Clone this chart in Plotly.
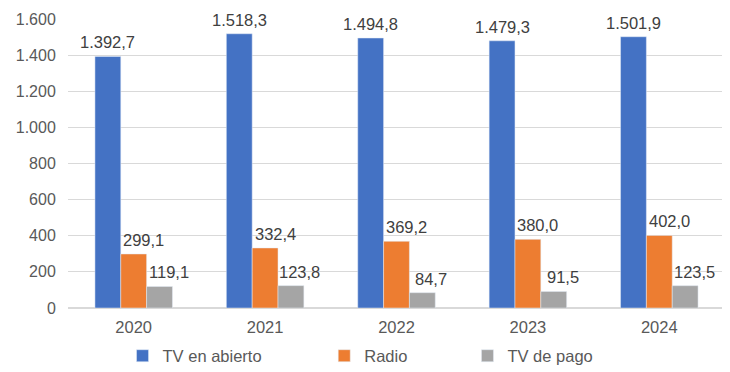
import plotly.graph_objects as go

years = ["2020", "2021", "2022", "2023", "2024"]
tv_abierto = [1392.7, 1518.3, 1494.8, 1479.3, 1501.9]
radio = [299.1, 332.4, 369.2, 380.0, 402.0]
tv_pago = [119.1, 123.8, 84.7, 91.5, 123.5]
series_names = ["TV en abierto", "Radio", "TV de pago"]
colors = ["#4472C4", "#ED7D31", "#A5A5A5"]
y_ticks = [0, 200, 400, 600, 800, 1000, 1200, 1400, 1600]


def fmt(v, dec=1):
    s = f"{v:,.{dec}f}"
    return s.replace(",", "X").replace(".", ",").replace("X", ".")


BARGAP = 0.41
bar_w = (1 - BARGAP) / 3
legend_x = [0.083, 0.390, 0.608]
label_xshift = [0, 10, 9]

fig = go.Figure()
all_series = [tv_abierto, radio, tv_pago]
for k, (name, vals, col) in enumerate(zip(series_names, all_series, colors)):
    lg = "legend" if k == 0 else f"legend{k+1}"
    fig.add_trace(go.Bar(
        x=years, y=vals, name=name, marker_color=col, legend=lg,
    ))
    for i, v in enumerate(vals):
        fig.add_annotation(
            x=i + (k - 1) * bar_w, y=v, xref="x", yref="y",
            text=fmt(v), showarrow=False, yanchor="bottom",
            xshift=label_xshift[k], yshift=3,
            font=dict(family="Liberation Sans, Arial", size=16.5, color="#404040"),
        )

leg_common = dict(orientation="h", xref="paper", yref="container", y=0.044,
                  yanchor="middle", xanchor="left",
                  font=dict(family="Liberation Sans, Arial", size=16.5, color="#595959"),
                  bgcolor="rgba(0,0,0,0)")
fig.update_layout(
    width=722, height=364,
    margin=dict(l=60, r=5, t=11, b=64, autoexpand=False),
    plot_bgcolor="white", paper_bgcolor="white",
    barmode="group", bargap=BARGAP, bargroupgap=0,
    font=dict(family="Liberation Sans, Arial", size=16, color="#595959"),
    legend=dict(x=legend_x[0], **leg_common),
    legend2=dict(x=legend_x[1], **leg_common),
    legend3=dict(x=legend_x[2], **leg_common),
    showlegend=True,
)
fig.update_yaxes(range=[0, 1600], tickvals=y_ticks,
                 ticktext=[fmt(v, 0) for v in y_ticks],
                 showgrid=True, gridcolor="#D9D9D9", gridwidth=1,
                 zeroline=True, zerolinecolor="#D9D9D9", ticks="outside",
                 ticklen=8, tickcolor="rgba(0,0,0,0)",
                 tickfont=dict(size=16, color="#595959"))
fig.update_xaxes(showline=True, linecolor="#D9D9D9", ticks="outside",
                 ticklen=4, tickcolor="rgba(0,0,0,0)",
                 tickfont=dict(size=16.5, color="#595959"))

fig.write_html("out.html")
